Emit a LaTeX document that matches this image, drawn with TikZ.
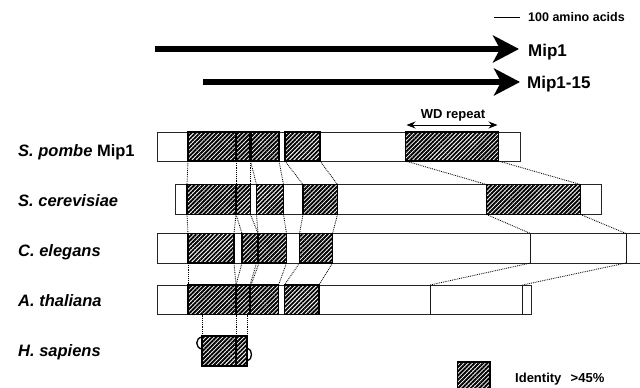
\documentclass[tikz,border=0pt]{standalone}
\usepackage{fontspec}
\setmainfont{Liberation Sans}
\usetikzlibrary{patterns.meta,arrows.meta}
\begin{document}
\begin{tikzpicture}[x=1pt,y=-1pt,
  bar/.style={draw=black!85, line width=1pt, fill=white},
  hatch/.style={draw=black, line width=1.2pt, pattern={Lines[angle=45,distance=3pt,line width=1.9pt]}, pattern color=black},
  septhick/.style={line width=2.2pt, black},
  septhin/.style={line width=1.3pt, black},
  vline/.style={line width=1pt, black!90},
  conn/.style={densely dotted, line width=0.85pt, black},
  lab/.style={font=\fontsize{16.5}{18}\selectfont\bfseries\itshape, anchor=base west, inner sep=0pt},
  biglab/.style={font=\fontsize{17}{19}\selectfont\bfseries, anchor=base west, inner sep=0pt},
  smalllab/.style={font=\fontsize{12.5}{14}\selectfont\bfseries, anchor=base west, inner sep=0pt},
  fat/.style={line width=6.5pt, -{Stealth[length=26pt,width=27pt,inset=7pt]}}
]
\useasboundingbox (0,0) rectangle (640,388);

% scale bar
\coordinate (sb1) at (494,17);
\coordinate (sb2) at (520,17);
\draw[line width=0.9pt] (sb1) -- (sb2);
\node[smalllab] (scale) at (528,21) {100 amino acids};

% big arrows
\node[biglab] (mip1) at (528,56) {Mip1};
\coordinate (a1s) at (155,49);
\coordinate (a1e) at (519,49);
\draw[fat] (a1s) -- (a1e);
\node[biglab] (mip15) at (527,88.5) {Mip1-15};
\coordinate (a2s) at (203,82);
\coordinate (a2e) at (520,82);
\draw[fat] (a2s) -- (a2e);

% WD repeat
\node[smalllab, font=\fontsize{13}{15}\selectfont\bfseries, anchor=base] (wd) at (453,118.5) {WD repeat};
\coordinate (wd1) at (406.5,125);
\coordinate (wd2) at (497.5,125);
\draw[line width=0.9pt, {Stealth[length=9pt,width=7pt]}-{Stealth[length=9pt,width=7pt]}] (wd1) -- (wd2);

% labels
\node[lab] (lsp) at (18,156) {S. pombe \upshape Mip1};
\node[lab] (lsc) at (18,206.5) {S. cerevisiae};
\node[lab] (lce) at (18,256.5) {C. elegans};
\node[lab] (lat) at (18,306.5) {A. thaliana};
\node[lab] (lhs) at (18,356.5) {H. sapiens};

% ---- S. pombe Mip1 (y 132-161)
\draw[bar] (157,132) rectangle (520,161);
\draw[hatch] (188,132) rectangle (236,161);
\draw[hatch] (236,132) rectangle (250.5,161);
\draw[hatch] (250.5,132) rectangle (279,161);
\draw[hatch] (285,132) rectangle (320,161);
\draw[hatch] (405.5,132) rectangle (498.5,161);
\draw[septhick] (236,132) -- (236,161);
\draw[septhick] (250.5,132) -- (250.5,161);

% ---- S. cerevisiae (y 184.5-214.5)
\draw[bar] (175,184.5) rectangle (601,214.5);
\draw[hatch] (187,184.5) rectangle (236,214.5);
\draw[hatch] (236,184.5) rectangle (250.5,214.5);
\draw[hatch] (256.5,184.5) rectangle (283.5,214.5);
\draw[hatch] (303,184.5) rectangle (337.5,214.5);
\draw[hatch] (486.5,184.5) rectangle (580.5,214.5);
\draw[septhick] (236,184.5) -- (236,214.5);
\draw[septhin] (250.5,184.5) -- (250.5,214.5);

% ---- C. elegans (y 233.5-263)
\draw[bar] (157,233.5) rectangle (645,263);
\draw[hatch] (188,233.5) rectangle (234,263);
\draw[hatch] (242,233.5) rectangle (258,263);
\draw[hatch] (258,233.5) rectangle (286.5,263);
\draw[hatch] (299.5,233.5) rectangle (332.5,263);
\draw[septhin] (258,233.5) -- (258,263);
\draw[vline] (530.5,233.5) -- (530.5,263);
\draw[vline] (626,233.5) -- (626,263);

% ---- A. thaliana (y 285-314.5)
\draw[bar] (157,285) rectangle (531.5,314.5);
\draw[hatch] (188,285) rectangle (236,314.5);
\draw[hatch] (236,285) rectangle (250,314.5);
\draw[hatch] (250,285) rectangle (278.5,314.5);
\draw[hatch] (284.5,285) rectangle (319,314.5);
\draw[septhick] (236,285) -- (236,314.5);
\draw[septhick] (250,285) -- (250,314.5);
\draw[vline] (430,285) -- (430,314.5);
\draw[vline] (522.5,285) -- (522.5,314.5);

% ---- H. sapiens (y 336-366)
\draw[hatch] (202,336) rectangle (247,366);
\draw[septhick] (236,336) -- (236,366);
\draw[line width=1.3pt] (202,337) .. controls (195,338) and (195,348) .. (202,349);
\draw[line width=1.3pt] (247,348) .. controls (253,349) and (253,360) .. (247,361);

% ---- connectors Mip1 -> S. cerevisiae
\foreach \i/\a/\b in {1/188/187, 2/236/236, 3/250.5/250.5, 4/250.5/256.5, 5/279/283.5, 6/285/303, 7/320/337.5, 8/405.5/486.5, 9/498.5/580.5}{
  \coordinate (pa\i) at (\a,161);
  \coordinate (pb\i) at (\b,184.5);
  \draw[conn] (pa\i) -- (pb\i);
}
% S. cerevisiae -> C. elegans
\foreach \i/\a/\b in {1/187/188, 2/236/234, 3/236/242, 4/250.5/258, 5/256.5/258, 6/283.5/286.5, 7/303/299.5, 8/337.5/332.5, 9/486.5/530.5, 10/580.5/626}{
  \coordinate (qa\i) at (\a,214.5);
  \coordinate (qb\i) at (\b,233.5);
  \draw[conn] (qa\i) -- (qb\i);
}
% C. elegans -> A. thaliana
\foreach \i/\a/\b in {1/188/188, 2/234/236, 3/242/236, 4/256.5/250, 5/259/251, 6/286.5/278.5, 7/299.5/284.5, 8/332.5/319, 9/530.5/430, 10/626/522.5}{
  \coordinate (ra\i) at (\a,263);
  \coordinate (rb\i) at (\b,285);
  \draw[conn] (ra\i) -- (rb\i);
}
% A. thaliana -> H. sapiens
\foreach \i/\a/\b in {1/202/202, 2/236/236, 3/247/247}{
  \coordinate (sa\i) at (\a,314.5);
  \coordinate (sb\i) at (\b,336);
  \draw[conn] (sa\i) -- (sb\i);
}

% legend
\draw[hatch] (457.5,362) rectangle (490,395);
\node[smalllab, font=\fontsize{13}{15}\selectfont\bfseries] (ident) at (515,382) {Identity};
\node[smalllab, font=\fontsize{13}{15}\selectfont\bfseries] (pct) at (570.5,382) {>45\%};
\end{tikzpicture}
\end{document}
